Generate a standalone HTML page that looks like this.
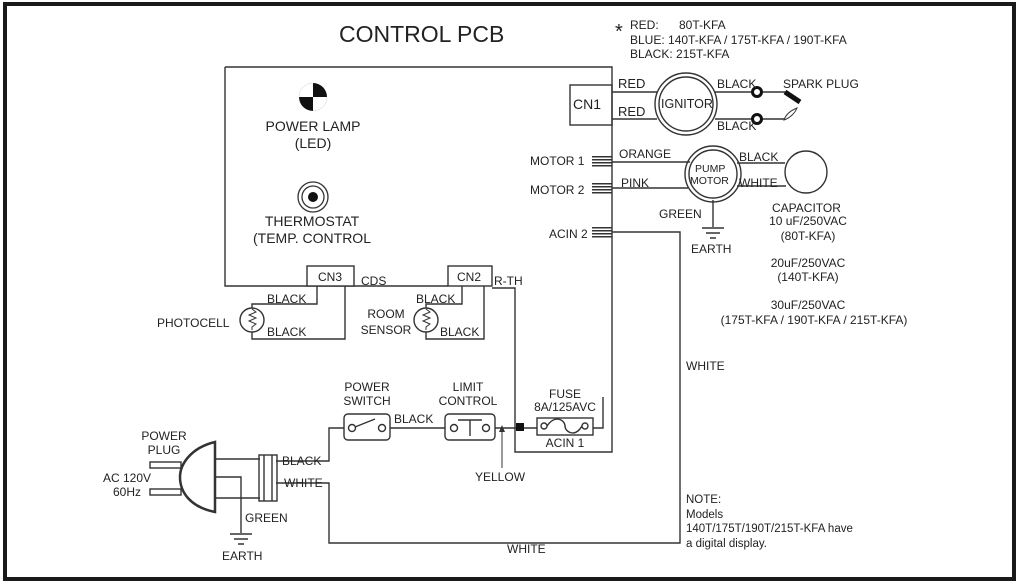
<!DOCTYPE html>
<html><head><meta charset="utf-8"><style>
html,body{margin:0;padding:0;background:#fff}
svg{display:block}
text{font-family:"Liberation Sans",Arial,sans-serif;fill:#222;font-size:12px}
</style></head><body>
<svg width="1019" height="585" viewBox="0 0 1019 585" xmlns="http://www.w3.org/2000/svg">
<rect x="0" y="0" width="1019" height="585" fill="#fff"/>
<rect x="5" y="4" width="1009" height="575" fill="none" stroke="#1a1a1a" stroke-width="4"/>
<g fill="none" stroke="#333" stroke-width="1.4">
<path d="M225,67 H612 V452 H515 V288 H492"/>
<path d="M225,67 V286 H448"/>
<rect x="570" y="85" width="42" height="40"/>
<rect x="307" y="266" width="47" height="20" fill="#fff"/>
<rect x="448" y="266" width="44" height="20" fill="#fff"/>
<path d="M612,92 H657 M612,119 H657 M715,92 H752 M715,119 H752 M762,92 H786"/>
<circle cx="686" cy="104" r="31"/><circle cx="686" cy="104" r="27"/>
<path d="M762,119 H785"/>
<path d="M612,162 H690 M612,188 H688 M737,163 H785 M737,186 H786 M713,200 V227 M612,232 H680 V543 H329 V483 H276 M276,461 H329 V428 H344 M390,428 H445 M495,428 H537 M593,428 H603 V397"/>
<circle cx="713" cy="174" r="28"/><circle cx="713" cy="174" r="24"/>
<circle cx="806" cy="172" r="21"/>
<path d="M702,228 H724 M706,233 H720 M710,238 H716"/>
<path d="M317,286 V304 H252 V308 M252,332 V339 H345 V286 M462,286 V304 H426 V308 M426,332 V339 H484 V286"/>
<circle cx="252" cy="320" r="12"/><circle cx="426" cy="320" r="12"/>
<path d="M252,309 l4,3 -7,3 7,3 -7,3 7,3 -4,3 v3" stroke-width="1"/>
<path d="M426,309 l4,3 -7,3 7,3 -7,3 7,3 -4,3 v3" stroke-width="1"/>
<rect x="344" y="414" width="46" height="26" rx="4"/>
<circle cx="352" cy="428" r="3.5"/><circle cx="382" cy="428" r="3.5"/>
<path d="M355,427 L375,419"/>
<rect x="445" y="414" width="50" height="26" rx="4"/>
<circle cx="454" cy="428" r="3.5"/><circle cx="486" cy="428" r="3.5"/>
<path d="M458,420 H482 M470,420 V436"/>
<rect x="537" y="418" width="56" height="17"/>
<circle cx="544" cy="426" r="3"/><circle cx="585" cy="426" r="3"/>
<path d="M547,426 C555,414 565,420 565,426 C565,432 575,438 582,426"/>
<path d="M502,468 V431" stroke-width="1"/>
<path d="M215,442 C190,448 180,465 180,477 C180,492 190,507 215,512 Z" stroke-width="2.5"/>
<rect x="150" y="462" width="31" height="6"/><rect x="150" y="489" width="31" height="6"/>
<path d="M215,459 H260 M215,498 H260 M215,477 H241 V533"/>
<rect x="259" y="455" width="18" height="46"/>
<path d="M264,455 V501 M272,455 V501"/>
<path d="M230,534 H252 M234,539 H248 M238,544 H244"/>
</g>
<polygon points="502,425 499,432 505,432" fill="#333"/>
<rect x="516" y="423" width="8" height="8" fill="#111"/>
<g fill="#333">
<rect x="592" y="156" width="20" height="1.5"/><rect x="592" y="159" width="20" height="1.5"/><rect x="592" y="162" width="20" height="1.5"/><rect x="592" y="165" width="20" height="1.5"/>
<rect x="592" y="183" width="20" height="1.5"/><rect x="592" y="186" width="20" height="1.5"/><rect x="592" y="189" width="20" height="1.5"/><rect x="592" y="192" width="20" height="1.5"/>
<rect x="592" y="227" width="20" height="1.5"/><rect x="592" y="230" width="20" height="1.5"/><rect x="592" y="233" width="20" height="1.5"/><rect x="592" y="236" width="20" height="1.5"/>
</g>
<circle cx="757" cy="92" r="4.5" fill="#fff" stroke="#111" stroke-width="3"/>
<circle cx="757" cy="119" r="4.5" fill="#fff" stroke="#111" stroke-width="3"/>
<path d="M785,92 L800,102" stroke="#111" stroke-width="5"/>
<path d="M784,120 C786,114 792,110 797,108 C795,113 790,118 784,120 Z" stroke="#333" stroke-width="1" fill="#fff"/>
<circle cx="313" cy="97" r="14" fill="#111"/>
<path d="M313,83 A14,14 0 0 0 299,97 H313 Z M313,97 V111 A14,14 0 0 0 327,97 Z" fill="#fff"/>
<circle cx="313" cy="197" r="15" fill="none" stroke="#333" stroke-width="1.3"/>
<circle cx="313" cy="197" r="11" fill="none" stroke="#333" stroke-width="1.3"/>
<circle cx="313" cy="197" r="5" fill="#111"/>
<text x="339" y="42" style="font-size:23px">CONTROL PCB</text>
<text x="615" y="38" style="font-size:20px">*</text>
<text x="630" y="29" style="font-size:12px">RED:</text><text x="679" y="29" style="font-size:12px">80T-KFA</text>
<text x="630" y="44" style="font-size:12px">BLUE:   140T-KFA / 175T-KFA / 190T-KFA</text>
<text x="630" y="58" style="font-size:12px">BLACK: 215T-KFA</text>
<text x="313" y="131" text-anchor="middle" style="font-size:14px">POWER LAMP</text>
<text x="313" y="148" text-anchor="middle" style="font-size:14px">(LED)</text>
<text x="312" y="226" text-anchor="middle" style="font-size:14px">THERMOSTAT</text>
<text x="312" y="243" text-anchor="middle" style="font-size:14px">(TEMP. CONTROL</text>
<text x="573" y="109" style="font-size:14px">CN1</text>
<text x="618" y="88" style="font-size:13px">RED</text><text x="618" y="116" style="font-size:13px">RED</text>
<text x="661" y="108" style="font-size:12.5px">IGNITOR</text>
<text x="717" y="88">BLACK</text><text x="717" y="130">BLACK</text>
<text x="783" y="88">SPARK PLUG</text>
<text x="530" y="165">MOTOR 1</text><text x="530" y="194">MOTOR 2</text><text x="549" y="238">ACIN 2</text>
<text x="619" y="158">ORANGE</text><text x="621" y="187">PINK</text>
<text x="695" y="172" style="font-size:10.5px">PUMP</text><text x="690" y="184" style="font-size:10.5px">MOTOR</text>
<text x="739" y="161">BLACK</text><text x="739" y="187">WHITE</text>
<text x="659" y="218">GREEN</text><text x="691" y="253">EARTH</text>
<text x="772" y="212">CAPACITOR</text>
<text x="808" y="225" text-anchor="middle">10 uF/250VAC</text>
<text x="808" y="240" text-anchor="middle">(80T-KFA)</text>
<text x="808" y="267" text-anchor="middle">20uF/250VAC</text>
<text x="808" y="281" text-anchor="middle">(140T-KFA)</text>
<text x="808" y="309" text-anchor="middle">30uF/250VAC</text>
<text x="814" y="324" text-anchor="middle">(175T-KFA / 190T-KFA / 215T-KFA)</text>
<text x="686" y="370">WHITE</text>
<text x="318" y="281">CN3</text><text x="361" y="285">CDS</text><text x="457" y="281">CN2</text><text x="494" y="285">R-TH</text>
<text x="267" y="303">BLACK</text><text x="267" y="336">BLACK</text>
<text x="157" y="327">PHOTOCELL</text>
<text x="416" y="303">BLACK</text><text x="440" y="336">BLACK</text>
<text x="386" y="318" text-anchor="middle">ROOM</text><text x="386" y="334" text-anchor="middle">SENSOR</text>
<text x="367" y="391" text-anchor="middle">POWER</text><text x="367" y="405" text-anchor="middle">SWITCH</text>
<text x="468" y="391" text-anchor="middle">LIMIT</text><text x="468" y="405" text-anchor="middle">CONTROL</text>
<text x="394" y="423">BLACK</text>
<text x="565" y="398" text-anchor="middle">FUSE</text>
<text x="565" y="411" text-anchor="middle">8A/125AVC</text>
<text x="565" y="447" text-anchor="middle">ACIN 1</text>
<text x="475" y="481">YELLOW</text>
<text x="164" y="440" text-anchor="middle">POWER</text><text x="164" y="454" text-anchor="middle">PLUG</text>
<text x="127" y="482" text-anchor="middle">AC 120V</text><text x="127" y="496" text-anchor="middle">60Hz</text>
<text x="282" y="465">BLACK</text><text x="284" y="487">WHITE</text>
<text x="245" y="522">GREEN</text><text x="222" y="560">EARTH</text>
<text x="507" y="553">WHITE</text>
<text x="686" y="503" style="font-size:11.5px">NOTE:</text>
<text x="686" y="518" style="font-size:11.5px">Models</text>
<text x="686" y="532" style="font-size:11.5px">140T/175T/190T/215T-KFA have</text>
<text x="686" y="547" style="font-size:11.5px">a digital display.</text>
</svg>
</body></html>
